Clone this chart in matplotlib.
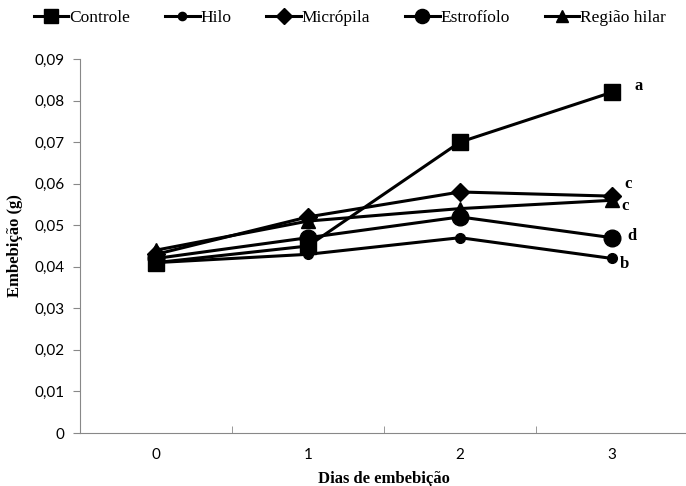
import matplotlib
matplotlib.use("Agg")
import matplotlib.pyplot as plt

days = ["0", "1", "2", "3"]
controle = [0.041, 0.045, 0.070, 0.082]
hilo = [0.041, 0.043, 0.047, 0.042]
micropila = [0.043, 0.052, 0.058, 0.057]
estrofiolo = [0.042, 0.047, 0.052, 0.047]
regiao_hilar = [0.044, 0.051, 0.054, 0.056]
series_names = ["Controle", "Hilo", "Micrópila", "Estrofíolo", "Região hilar"]
end_letters = ["a", "b", "c", "d", "c"]
yticks = [0, 0.01, 0.02, 0.03, 0.04, 0.05, 0.06, 0.07, 0.08, 0.09]
ytick_labels = ["0", "0,01", "0,02", "0,03", "0,04", "0,05", "0,06", "0,07", "0,08", "0,09"]

fig = plt.figure(figsize=(6.86, 4.86), dpi=100)
ax = fig.add_axes([80/686, 53/486, 608/686, 374/486])

x = list(range(len(days)))
series = [controle, hilo, micropila, estrofiolo, regiao_hilar]
markers = ["s", "o", "D", "o", "^"]
msizes = [12, 7, 9, 12, 10]
handles = []
for vals, name, m, ms in zip(series, series_names, markers, msizes):
    h, = ax.plot(x, vals, color="black", lw=2.2, marker=m, ms=ms, label=name, zorder=3)
    handles.append(h)

# letters at end
offsets = {"Controle": (0.15, 0.0015), "Hilo": (0.05, -0.0013), "Micrópila": (0.08, 0.0028),
           "Estrofíolo": (0.1, 0.0003), "Região hilar": (0.06, -0.0013)}
for vals, name, letter in zip(series, series_names, end_letters):
    dx, dy = offsets[name]
    ax.text(x[-1] + dx, vals[-1] + dy, letter, fontsize=12, fontweight="bold",
            family="Liberation Serif", ha="left", va="center")

ax.set_xlim(-0.5, 3.5)
ax.set_ylim(0, 0.09)
ax.set_yticks(yticks)
ax.set_yticklabels(ytick_labels, family="Lato", fontsize=11)
ax.set_xticks(x)
ax.set_xticklabels(days, family="Lato", fontsize=11)
ax.set_xticks([0.5, 1.5, 2.5], minor=True)
ax.tick_params(axis="x", which="major", length=0, pad=11)
ax.tick_params(axis="x", which="minor", length=5, color="#888888", direction="in")
ax.tick_params(axis="y", length=5, color="#888888", direction="out", pad=6)
for s in ["top", "right"]:
    ax.spines[s].set_visible(False)
ax.spines["left"].set_color("#888888")
ax.spines["bottom"].set_color("#888888")

ax.set_xlabel("Dias de embebição", family="Liberation Serif", fontweight="bold", fontsize=12, labelpad=6)
ax.set_ylabel("Embebição (g)", family="Liberation Serif", fontweight="bold", fontsize=12, labelpad=8)

leg = fig.legend(handles=handles, labels=series_names, loc="upper center", ncol=5,
                 bbox_to_anchor=(0.51, 1.012), frameon=False,
                 prop={"family": "Liberation Serif", "size": 12.5},
                 handlelength=2.0, handletextpad=0.05, columnspacing=2.0, markerscale=0.85)

fig.savefig("out.png", dpi=100)
